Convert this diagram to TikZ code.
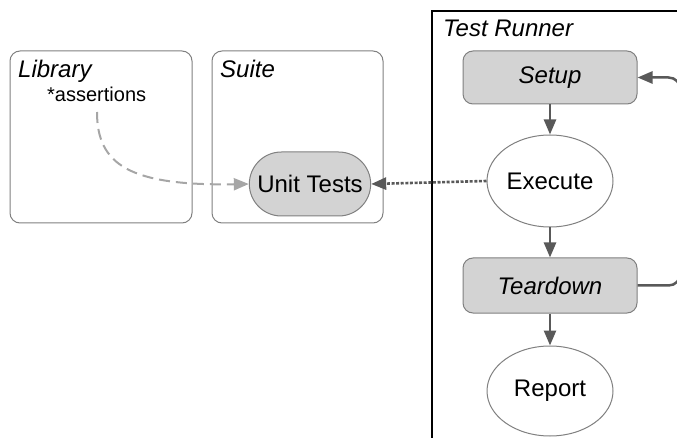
\documentclass[tikz,border=0pt]{standalone}
\usepackage{fontspec}
\setmainfont{Liberation Sans}
\usetikzlibrary{arrows.meta,shapes.geometric,shapes.misc}
\definecolor{boxgray}{HTML}{808080}
\definecolor{fillgray}{HTML}{D3D3D3}
\definecolor{arrowgray}{HTML}{595959}
\definecolor{dashgray}{HTML}{A6A6A6}
\tikzset{
  container/.style={draw=boxgray, line width=1pt, rounded corners=10pt},
  title/.style={anchor=base west, inner sep=0pt, font=\fontsize{24}{28}\selectfont\itshape},
  stepbox/.style={draw=boxgray, line width=1pt, fill=fillgray, rounded corners=10pt,
    minimum width=174pt, font=\fontsize{24}{28}\selectfont\itshape},
  oval/.style={ellipse, draw=boxgray, line width=1pt, fill=white, minimum width=126pt,
    font=\fontsize{24}{28}\selectfont, inner sep=0pt},
  flow/.style={draw=arrowgray, line width=2.5pt, -{Triangle[length=15pt,width=12pt]}},
}
\begin{document}
\begin{tikzpicture}[x=1pt,y=-1pt]
\useasboundingbox (0,0) rectangle (677,438);
% containers
\draw[container] (10,51) rectangle (192,223);
\draw[container] (212,51) rectangle (383,223);
\draw[black, line width=1.3pt] (432,460) -- (432,11) -- (700,11);
\node[title] (libt) at (18,78) {Library};
\node[title] (suitet) at (220,78) {Suite};
\node[title] (runt) at (443,37) {Test Runner};
\node[anchor=base west, inner sep=0pt, font=\fontsize{20}{24}\selectfont] (assert) at (47,102) {*assertions};
\coordinate (astart) at (97,112);
% nodes
\node[rounded rectangle, draw=boxgray, line width=1pt, fill=fillgray, minimum width=128pt,
  minimum height=64pt, font=\fontsize{24}{28}\selectfont] (unit) at (310,184) {Unit Tests};
\node[stepbox, minimum height=53pt] (setup) at (550,77.5) {Setup};
\node[oval, minimum height=92pt] (exec) at (550,181) {Execute};
\node[stepbox, minimum height=55pt] (tear) at (550,285.5) {Teardown};
\node[oval, minimum height=90pt] (report) at (550,391) {Report};
% connectors
\draw[flow] (setup.south) -- (exec.north);
\draw[flow] (exec.south) -- (tear.north);
\draw[flow] (tear.south) -- (report.north);
\draw[flow, rounded corners=12pt] (tear.east) -- ++(43,0) |- (setup.east);
\draw[draw=arrowgray, line width=2.6pt, dash pattern=on 3pt off 1.6pt,
  -{Triangle[length=15pt,width=12pt]}] (exec.west) -- (unit.east);
\draw[draw=dashgray, line width=2pt, dash pattern=on 11pt off 6pt,
  -{Triangle[length=15pt,width=12pt]}]
  (astart) .. controls (97,165) and (130,186) .. (unit.west);
\end{tikzpicture}
\end{document}
